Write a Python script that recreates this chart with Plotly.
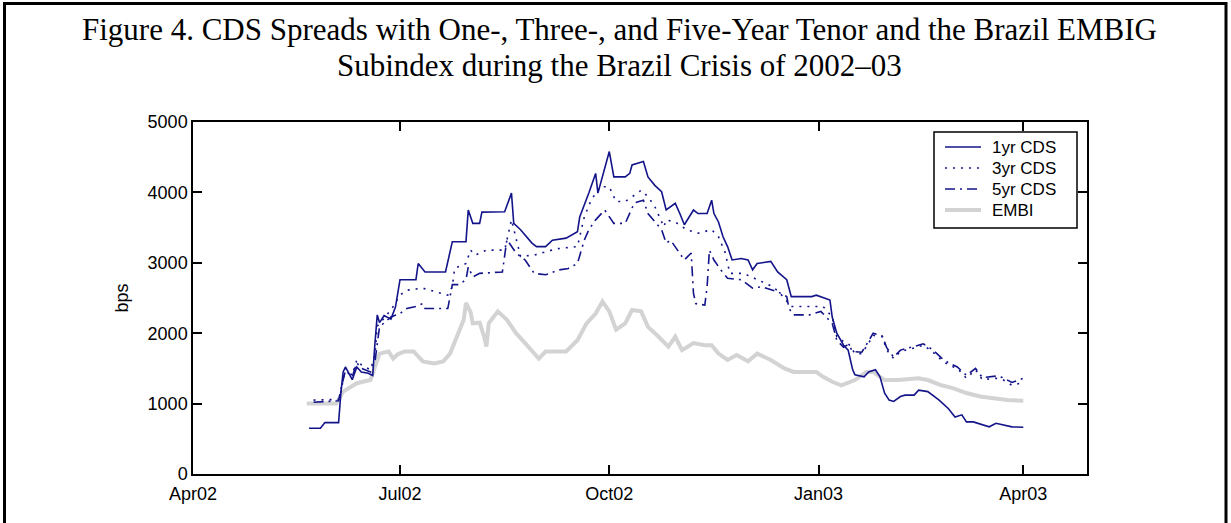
import plotly.graph_objects as go

# ---------------- data ----------------
cds1_dates = ["2002-05-22","2002-05-27","2002-05-29","2002-06-04","2002-06-05","2002-06-06","2002-06-07",
    "2002-06-10","2002-06-12","2002-06-14","2002-06-17","2002-06-19","2002-06-20","2002-06-21","2002-06-22",
    "2002-06-24","2002-06-27","2002-06-29","2002-07-01","2002-07-08","2002-07-09","2002-07-12","2002-07-21",
    "2002-07-24","2002-07-30","2002-07-31","2002-08-02","2002-08-05","2002-08-06","2002-08-16","2002-08-19",
    "2002-08-20","2002-08-23","2002-08-28","2002-08-30","2002-09-03","2002-09-06","2002-09-12","2002-09-17",
    "2002-09-18","2002-09-22","2002-09-25","2002-09-26","2002-09-29","2002-10-01","2002-10-03","2002-10-08",
    "2002-10-10","2002-10-11","2002-10-16","2002-10-18","2002-10-21","2002-10-24","2002-10-26","2002-10-30",
    "2002-11-01","2002-11-03","2002-11-07","2002-11-09","2002-11-13","2002-11-15","2002-11-16","2002-11-18",
    "2002-11-20","2002-11-22","2002-11-24","2002-11-28","2002-12-01","2002-12-03","2002-12-05","2002-12-11",
    "2002-12-14","2002-12-18","2002-12-20","2002-12-29","2002-12-31","2003-01-02","2003-01-06","2003-01-07",
    "2003-01-09","2003-01-12","2003-01-14","2003-01-15","2003-01-16","2003-01-17","2003-01-21","2003-01-23",
    "2003-01-26","2003-01-28","2003-01-30","2003-02-01","2003-02-03","2003-02-06","2003-02-08","2003-02-12",
    "2003-02-14","2003-02-18","2003-02-23","2003-02-27","2003-03-02","2003-03-05","2003-03-07","2003-03-10",
    "2003-03-14","2003-03-17","2003-03-20","2003-03-23","2003-03-27","2003-04-01"]
cds1_values = [650,650,730,730,1150,1450,1520,
    1340,1520,1450,1430,1400,1860,2260,2150,
    2250,2200,2370,2760,2760,2990,2870,2870,
    3300,3300,3750,3560,3560,3720,3726,3990,
    3560,3470,3280,3230,3230,3320,3350,3440,
    3650,3990,4270,3990,4360,4580,4220,4220,
    4270,4390,4440,4220,4100,4010,3750,3845,
    3700,3540,3750,3700,3700,3890,3700,3580,
    3370,3230,3040,3060,3040,2900,2990,3020,
    2870,2760,2520,2520,2540,2520,2470,2230,
    2000,1830,1760,1620,1480,1410,1380,1450,
    1480,1380,1150,1050,1030,1100,1120,1120,
    1190,1170,1050,930,810,840,740,740,
    700,670,720,700,670,665]

cds3_dates = ["2002-05-24","2002-06-04","2002-06-05","2002-06-07","2002-06-10","2002-06-12","2002-06-14",
    "2002-06-18","2002-06-20","2002-06-21","2002-06-25","2002-06-28","2002-07-01","2002-07-04","2002-07-11",
    "2002-07-16","2002-07-22","2002-07-24","2002-07-25","2002-07-30","2002-08-01","2002-08-03","2002-08-08",
    "2002-08-16","2002-08-19","2002-08-23","2002-08-29","2002-09-08","2002-09-17","2002-09-20","2002-09-23",
    "2002-09-27","2002-10-01","2002-10-04","2002-10-08","2002-10-12","2002-10-15","2002-10-18","2002-10-21",
    "2002-10-25","2002-10-26","2002-10-30","2002-11-04","2002-11-09","2002-11-15","2002-11-18","2002-11-21",
    "2002-11-23","2002-11-29","2002-12-12","2002-12-15","2002-12-20","2003-01-03","2003-01-07","2003-01-09",
    "2003-01-12","2003-01-14","2003-01-17","2003-01-20","2003-01-23","2003-01-25","2003-01-29","2003-01-31",
    "2003-02-03","2003-02-06","2003-02-12","2003-02-16","2003-02-20","2003-02-24","2003-02-27","2003-03-03",
    "2003-03-07","2003-03-11","2003-03-14","2003-03-20","2003-03-23","2003-03-27","2003-04-01"]
cds3_values = [1050,1060,1170,1500,1400,1620,1550,
    1480,1700,2100,2250,2380,2540,2610,2640,
    2590,2540,2660,2920,2990,3180,3110,3180,
    3180,3610,3090,3110,3200,3230,3650,3890,
    4080,4080,3870,3870,3960,4030,3940,3800,
    3510,3610,3580,3470,3420,3470,3370,3140,
    2850,2850,2660,2570,2380,2380,2230,1950,
    1880,1860,1710,1710,1860,1970,1950,1760,
    1640,1740,1790,1830,1740,1620,1550,1500,
    1360,1480,1340,1360,1340,1260,1300]

cds5_dates = ["2002-05-24","2002-06-04","2002-06-05","2002-06-07","2002-06-10","2002-06-12","2002-06-14",
    "2002-06-18","2002-06-20","2002-06-22","2002-06-27","2002-07-01","2002-07-04","2002-07-08","2002-07-11",
    "2002-07-12","2002-07-22","2002-07-24","2002-07-27","2002-07-30","2002-07-31","2002-08-02","2002-08-05",
    "2002-08-15","2002-08-17","2002-08-21","2002-08-25","2002-08-29","2002-09-03","2002-09-09","2002-09-13",
    "2002-09-17","2002-09-20","2002-09-22","2002-09-25","2002-09-29","2002-10-03","2002-10-08","2002-10-12",
    "2002-10-16","2002-10-18","2002-10-24","2002-10-26","2002-10-28","2002-10-31","2002-11-03","2002-11-06",
    "2002-11-07","2002-11-08","2002-11-12","2002-11-13","2002-11-14","2002-11-16","2002-11-19","2002-11-22",
    "2002-11-28","2002-12-03","2002-12-07","2002-12-14","2002-12-18","2002-12-19","2002-12-21","2002-12-28",
    "2003-01-02","2003-01-07","2003-01-09","2003-01-12","2003-01-14","2003-01-16","2003-01-20","2003-01-23",
    "2003-01-25","2003-01-29","2003-01-31","2003-02-03","2003-02-06","2003-02-12","2003-02-16","2003-02-20",
    "2003-02-24","2003-02-27","2003-03-03","2003-03-07","2003-03-11","2003-03-14","2003-03-20","2003-03-23",
    "2003-03-27","2003-04-01"]
cds5_values = [1020,1040,1200,1470,1380,1580,1500,
    1450,1600,2090,2230,2280,2350,2380,2420,
    2350,2350,2690,2690,2760,2940,2800,2850,
    2870,3330,3140,3040,2850,2830,2900,2920,
    2990,3320,3470,3610,3750,3560,3560,3850,
    3890,3700,3470,3280,3320,3180,3040,3140,
    2570,2420,2400,2660,3180,3040,2900,2780,
    2760,2640,2660,2590,2520,2350,2260,2260,
    2310,2140,1900,1800,1840,1740,1730,1890,
    2000,1960,1790,1660,1760,1810,1850,1770,
    1650,1580,1520,1400,1500,1370,1390,1370,
    1300,1360]

embi_dates = ["2002-05-21","2002-06-03","2002-06-06","2002-06-12","2002-06-18","2002-06-20","2002-06-22",
    "2002-06-26","2002-06-28","2002-06-30","2002-07-03","2002-07-07","2002-07-11","2002-07-16","2002-07-20",
    "2002-07-23","2002-07-26","2002-07-29","2002-07-30","2002-08-01","2002-08-02","2002-08-05","2002-08-07",
    "2002-08-08","2002-08-09","2002-08-13","2002-08-17","2002-08-21","2002-08-25","2002-08-31","2002-09-03",
    "2002-09-08","2002-09-12","2002-09-17","2002-09-21","2002-09-25","2002-09-28","2002-10-01","2002-10-04",
    "2002-10-08","2002-10-11","2002-10-15","2002-10-18","2002-10-22","2002-10-27","2002-10-30","2002-11-02",
    "2002-11-07","2002-11-12","2002-11-15","2002-11-18","2002-11-22","2002-11-26","2002-12-01","2002-12-05",
    "2002-12-11","2002-12-17","2002-12-21","2002-12-28","2002-12-31","2003-01-03","2003-01-07","2003-01-11",
    "2003-01-15","2003-01-17","2003-01-22","2003-01-25","2003-01-30","2003-02-05","2003-02-14","2003-02-18",
    "2003-02-24","2003-03-01","2003-03-07","2003-03-13","2003-03-19","2003-03-25","2003-04-01"]
embi_values = [1000,1000,1170,1290,1335,1520,1710,
    1740,1640,1700,1740,1740,1600,1570,1600,
    1710,1950,2190,2430,2300,2140,2150,1950,
    1810,2140,2310,2190,2000,1860,1640,1740,
    1740,1740,1900,2140,2280,2450,2310,2050,
    2140,2330,2310,2090,1970,1810,1950,1760,
    1860,1830,1830,1710,1620,1690,1600,1710,
    1620,1500,1450,1450,1450,1380,1310,1260,
    1310,1335,1450,1450,1335,1335,1360,1335,
    1260,1220,1150,1100,1075,1050,1040]

x_tick_vals = ["2002-04-01","2002-07-01","2002-10-01","2003-01-01","2003-04-01"]
x_tick_text = ["Apr02","Jul02","Oct02","Jan03","Apr03"]
y_tick_vals = [0,1000,2000,3000,4000,5000]

series_names = ["1yr CDS", "3yr CDS", "5yr CDS", "EMBI"]

title_line1 = "Figure 4. CDS Spreads with One-, Three-, and Five-Year Tenor and the Brazil EMBIG"
title_line2 = "Subindex during the Brazil Crisis of 2002\u201303"

# ---------------- figure ----------------
W, H = 1231, 523
L, R, T, B = 193, 144, 122, 49
pw, ph = W - L - R, H - T - B

def px_x(x):
    return (x - L) / pw

def px_y(y):
    return (H - B - y) / ph

navy = "#14148a"
gray = "#d3d3d3"
styles = [dict(color=navy, width=1.6),
          dict(color=navy, width=1.6, dash="2px,6px"),
          dict(color=navy, width=1.6, dash="10px,5px,2px,5px"),
          dict(color=gray, width=4)]

fig = go.Figure()
fig.add_trace(go.Scatter(x=embi_dates, y=embi_values, mode="lines", name=series_names[3],
                         line=styles[3], showlegend=False))
fig.add_trace(go.Scatter(x=cds1_dates, y=cds1_values, mode="lines", name=series_names[0],
                         line=styles[0], showlegend=False))
fig.add_trace(go.Scatter(x=cds3_dates, y=cds3_values, mode="lines", name=series_names[1],
                         line=styles[1], showlegend=False))
fig.add_trace(go.Scatter(x=cds5_dates, y=cds5_values, mode="lines", name=series_names[2],
                         line=styles[2], showlegend=False))

sans = "Liberation Sans, Arial, sans-serif"
tick_font = dict(family=sans, size=18, color="black")

fig.update_layout(
    width=W, height=H, autosize=False,
    margin=dict(l=L, r=R, t=T, b=B, pad=0),
    paper_bgcolor="white", plot_bgcolor="white",
    showlegend=False,
    xaxis=dict(type="date", range=["2002-04-01", "2003-04-29"],
               tickvals=x_tick_vals, ticktext=x_tick_text,
               ticks="inside", ticklen=9, tickwidth=1.5, tickcolor="black",
               showline=True, linecolor="black", linewidth=1.5, mirror="ticks",
               showgrid=False, zeroline=False, tickfont=tick_font, ticklabelstandoff=3),
    yaxis=dict(range=[0, 5000], tickvals=y_tick_vals,
               ticks="inside", ticklen=9, tickwidth=1.5, tickcolor="black",
               showline=True, linecolor="black", linewidth=1.5, mirror="ticks",
               showgrid=False, zeroline=False, tickfont=tick_font,
               title=dict(text="bps", font=dict(family=sans, size=18, color="black"), standoff=14)),
    font=dict(family=sans, color="black"),
)

# legend box (drawn to match the reference's compact legend)
box_l, box_r, box_t, box_b = 934, 1077, 132, 228
fig.add_shape(type="rect", xref="paper", yref="paper",
              x0=px_x(box_l), x1=px_x(box_r), y0=px_y(box_b), y1=px_y(box_t),
              line=dict(color="black", width=1.5), fillcolor="white", layer="above")
row_y = [147, 168, 189, 210]
for name, st, ry in zip(series_names, styles, row_y):
    fig.add_shape(type="line", xref="paper", yref="paper",
                  x0=px_x(945), x1=px_x(981), y0=px_y(ry), y1=px_y(ry),
                  line=st, layer="above")
    fig.add_annotation(text=name, xref="paper", yref="paper", x=px_x(990), y=px_y(ry),
                       xanchor="left", yanchor="middle", showarrow=False,
                       font=dict(family=sans, size=17, color="black"))

title_font = dict(family="Liberation Serif, Times New Roman, serif", size=31, color="black")
fig.add_annotation(text=title_line1, xref="paper", yref="paper", x=px_x(619), y=px_y(30),
                   xanchor="center", yanchor="middle", showarrow=False, font=title_font)
fig.add_annotation(text=title_line2, xref="paper", yref="paper", x=px_x(619), y=px_y(66),
                   xanchor="center", yanchor="middle", showarrow=False, font=title_font)

# outer frame of the figure panel
fig.add_shape(type="rect", xref="paper", yref="paper",
              x0=px_x(4.5), x1=px_x(1226), y0=px_y(540), y1=px_y(3.5),
              line=dict(color="black", width=3), fillcolor="rgba(0,0,0,0)", layer="above")

fig.write_html("out.html", config={"displayModeBar": False},
               post_script="document.body.style.margin='0px';")
